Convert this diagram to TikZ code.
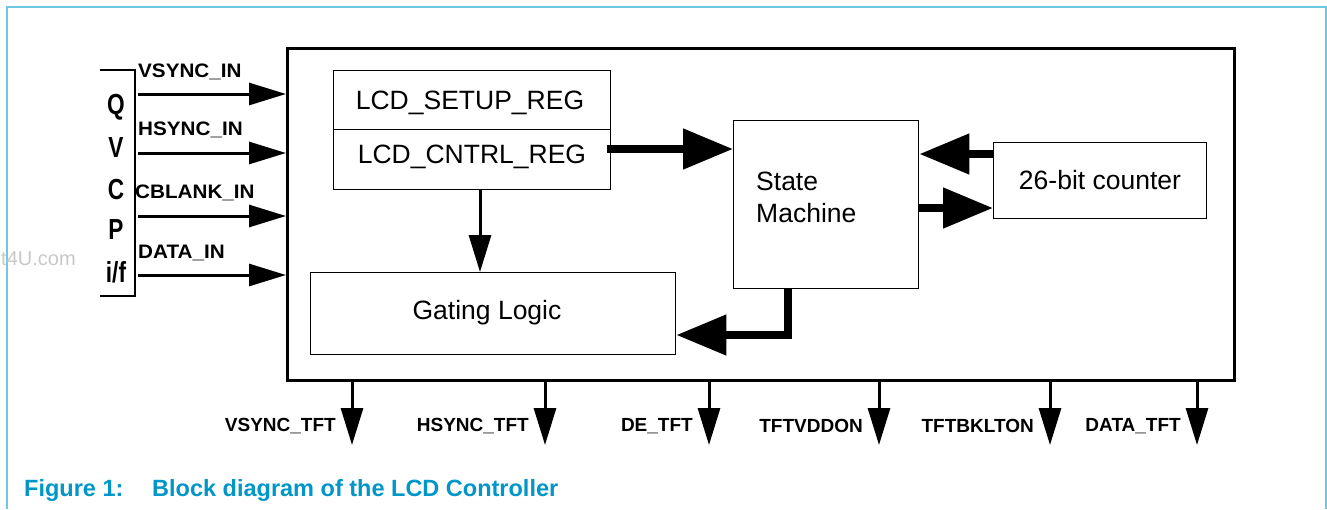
\documentclass[tikz,border=0pt]{standalone}
\usepackage{fontspec}
\setmainfont{Liberation Sans}
\newfontfamily\narrowfont[FakeStretch=0.78]{Liberation Sans}
\newfontfamily\widefont[FakeStretch=1.06]{Liberation Sans}
\usetikzlibrary{arrows.meta,calc}
\definecolor{framecyan}{RGB}{110,200,225}
\definecolor{capcyan}{RGB}{0,150,200}
\definecolor{wmgray}{RGB}{200,200,200}
\tikzset{
  blk/.style={draw,line width=1.4pt,inner sep=0pt,anchor=north west},
  blktext/.style={font=\fontsize{26.5}{32}\selectfont},
  lbl/.style={font=\fontsize{19}{22}\selectfont\bfseries,inner sep=0pt},
  inlbl/.style={font=\fontsize{19.5}{22}\selectfont\widefont\bfseries,inner sep=0pt},
  qv/.style={font=\fontsize{29}{30}\selectfont\narrowfont\bfseries,inner sep=0pt},
  captext/.style={text=capcyan,font=\fontsize{23.5}{26}\selectfont\bfseries,anchor=west,inner sep=0pt},
  thinarrow/.style={line width=3pt,-{Triangle[length=37pt,width=22pt]}},
  fatarrow/.style={line width=8pt,-{Triangle[length=50pt,width=39pt]}},
}
\begin{document}
\begin{tikzpicture}[x=1pt,y=-1pt]
\useasboundingbox (0,0) rectangle (1327,509);
% frame
\draw[framecyan,line width=1.5pt] (7,509) -- (7,7) -- (1326,7) -- (1326,509);
% watermark
\node[text=wmgray,font=\fontsize{20}{22}\selectfont,anchor=west,inner sep=0pt] (wm) at (1,259) {t4U.com};
% main box
\node[draw,line width=3pt,inner sep=0pt,anchor=north west,minimum width=947pt,minimum height=332pt] (main) at (286,47) {};
% QVCP bracket
\draw[line width=2.5pt] (100,70) -- (135,70) -- (135,296) -- (100,296);
\node[qv] (q1) at (116,107) {Q};
\node[qv] (q2) at (116,148) {V};
\node[qv] (q3) at (116,190) {C};
\node[qv] (q4) at (116,230) {P};
\node[qv] (q5) at (116,272) {i/f};
% inputs
\foreach \nm/\yy/\ly/\lx/\txt in {vs/94/72/138/VSYNC\_IN, hs/153/130/138/HSYNC\_IN, cb/216/193/135/CBLANK\_IN, di/275/253/138/DATA\_IN}{
  \coordinate (\nm) at (138,\yy);
  \draw[thinarrow] (\nm) -- (\nm -| main.west);
  \node[inlbl,anchor=west] (\nm l) at (\lx,\ly) {\txt};
}
% blocks
\node[blk,minimum width=277pt,minimum height=59pt] (setup) at (333,70) {};
\node[blktext] (setupt) at (470,103) {LCD\_SETUP\_REG};
\node[blk,minimum width=277pt,minimum height=60pt] (cntrl) at (333,129) {};
\node[blktext] (cntrlt) at (472,157) {LCD\_CNTRL\_REG};
\node[blk,minimum width=365pt,minimum height=82pt] (gate) at (310,272) {};
\node[blktext] (gatet) at (487,313) {Gating Logic};
\node[blk,minimum width=185pt,minimum height=168pt] (sm) at (733,120) {};
\node[blktext,align=left,anchor=west,inner sep=0pt] (smt) at (756,197) {State\\Machine};
\node[blk,minimum width=213pt,minimum height=76pt] (cnt) at (993,142) {};
\node[blktext] (cntt) at (1100,180) {26-bit counter};
% connectors
\coordinate (r1) at ($(cntrl.north east)+(-4,20)$);
\draw[fatarrow] (r1) -- (r1 -| sm.west);
\coordinate (d1) at ($(cntrl.south west)+(147,0)$);
\draw[thinarrow] (d1) -- (d1 |- gate.north);
\coordinate (c1) at ($(cnt.north west)+(0,12)$);
\draw[fatarrow] (c1) -- (c1 -| sm.east);
\coordinate (c2) at ($(cnt.north west)+(0,66)$);
\draw[fatarrow] (c2 -| sm.east) -- (c2);
\coordinate (s1) at ($(sm.south west)+(55,0)$);
\coordinate (g1) at ($(gate.north east)+(0,63)$);
\draw[fatarrow] (s1) |- (g1);
% outputs
\foreach \nm/\xx/\txt in {o1/352/VSYNC\_TFT, o2/545/HSYNC\_TFT, o3/709/DE\_TFT, o4/879/TFTVDDON, o5/1050/TFTBKLTON, o6/1197/DATA\_TFT}{
  \coordinate (\nm) at (\xx,445);
  \draw[thinarrow] (\nm |- main.south) -- (\nm);
  \node[lbl,anchor=east] (\nm l) at (\xx-16,426) {\txt};
}
% caption
\node[captext] (cap1) at (24,490) {Figure 1:};
\node[captext] (cap2) at (152,490) {Block diagram of the LCD Controller};
\end{tikzpicture}
\end{document}
